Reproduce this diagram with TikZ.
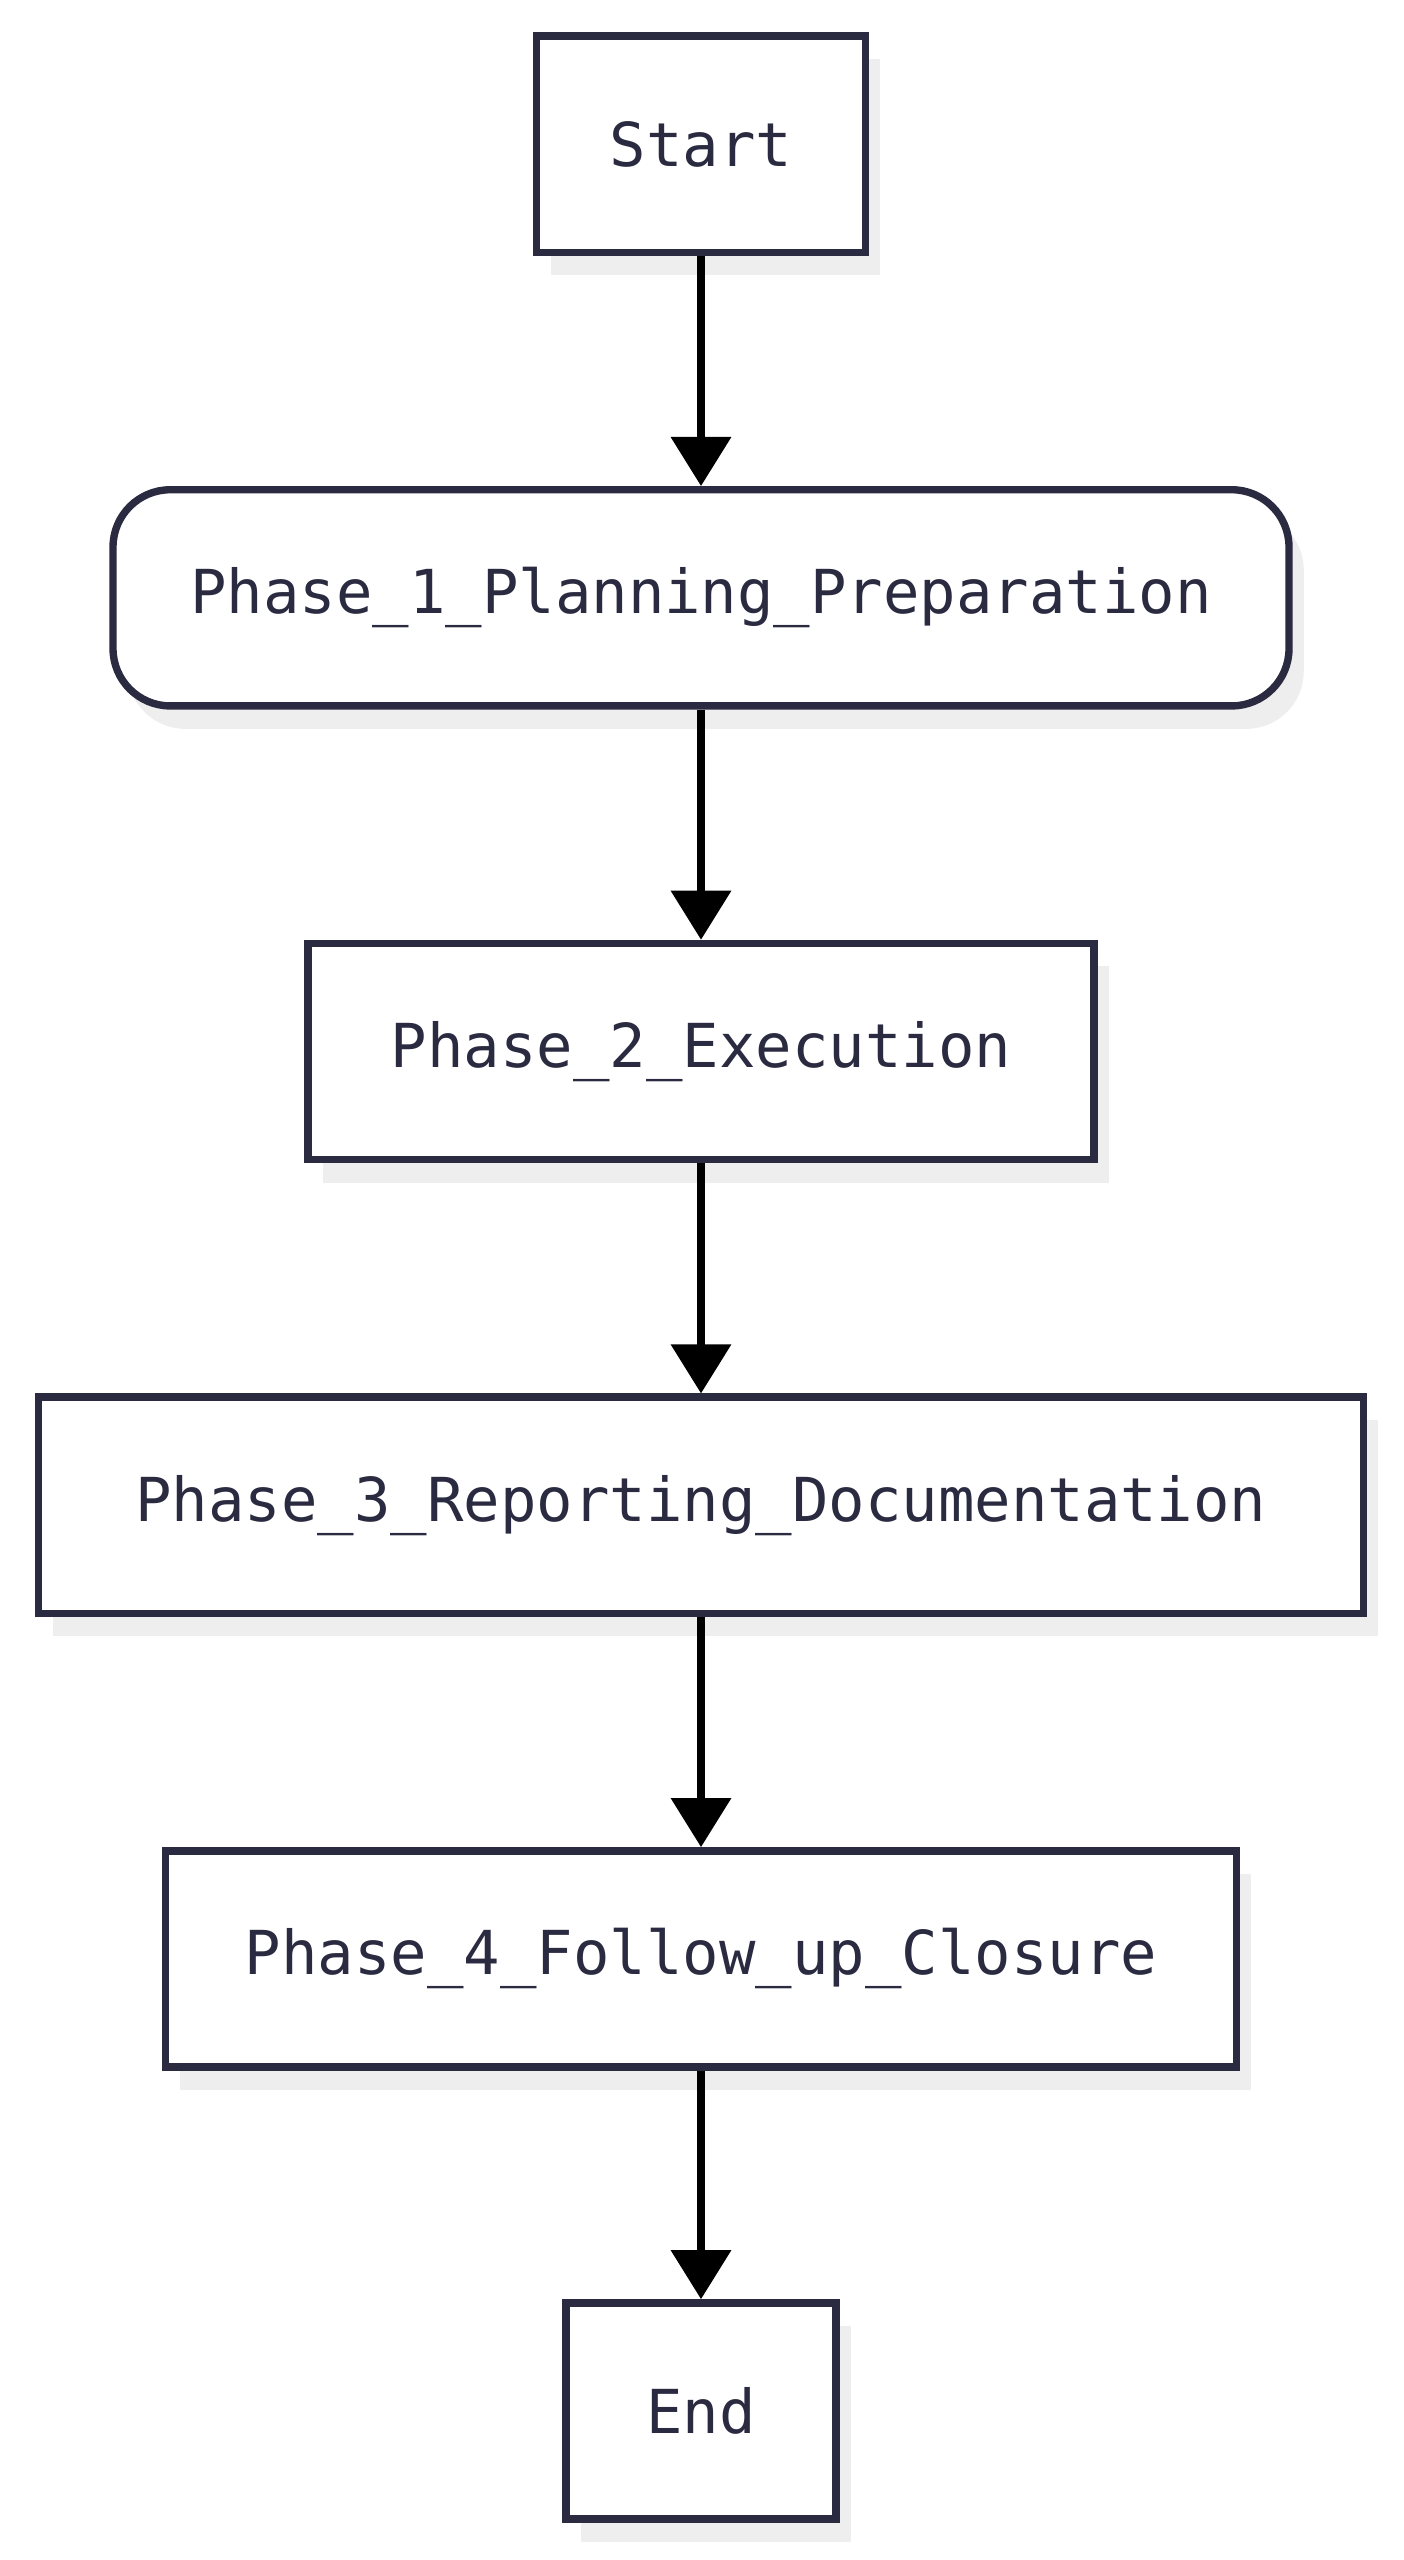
\documentclass[tikz,border=0pt]{standalone}
\usepackage{fontspec}
\setmainfont{DejaVu Sans Mono}
\usetikzlibrary{positioning,arrows.meta,shadows}
\definecolor{ink}{HTML}{2A2A40}
\definecolor{shade}{HTML}{EEEEEE}
\tikzset{
  phase/.style={draw=ink, line width=4.5pt, fill=white, text=ink, minimum height=132pt,
    font=\fontsize{37}{44}\selectfont,
    drop shadow={shadow xshift=9pt, shadow yshift=-14pt, fill=shade, opacity=1}},
  flow/.style={line width=4.5pt, -{Triangle[length=30pt, width=36pt]}}
}
\begin{document}
\begin{tikzpicture}[x=1pt, y=-1pt]
    \useasboundingbox (0,0) rectangle (857,1563);
    \node[phase, minimum width=201pt] (start) at (428,88) {Start};
    \node[phase, minimum width=718pt, rounded corners=35pt] (ph1) at (428,365) {Phase\_1\_Planning\_Preparation};
    \node[phase, minimum width=480pt] (ph2) at (428,642) {Phase\_2\_Execution};
    \node[phase, minimum width=809pt] (ph3) at (428,919) {Phase\_3\_Reporting\_Documentation};
    \node[phase, minimum width=654pt] (ph4) at (428,1196) {Phase\_4\_Follow\_up\_Closure};
    \node[phase, minimum width=165pt] (end) at (428,1472) {End};

    \foreach \a/\b in {start/ph1, ph1/ph2, ph2/ph3, ph3/ph4, ph4/end}
        \draw[flow] (\a) -- (\b);
\end{tikzpicture}
\end{document}
